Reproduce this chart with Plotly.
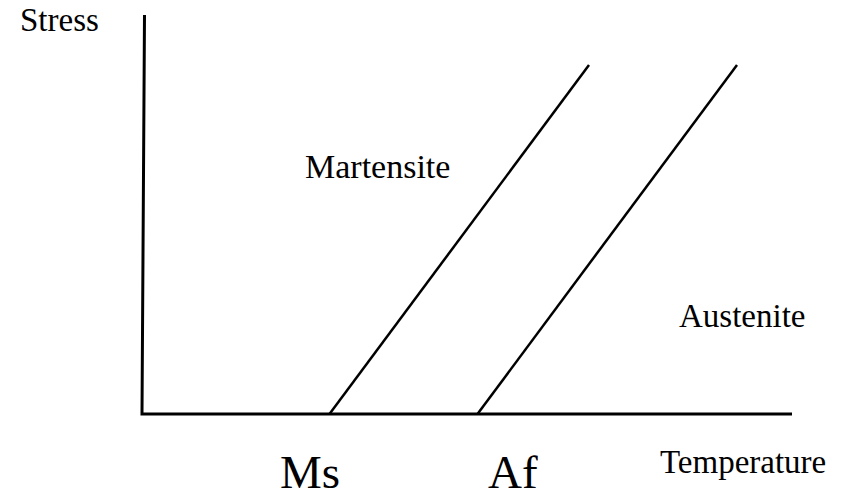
import plotly.graph_objects as go

# Diagram coordinates: origin at the axes corner (temperature right, stress up)
axis_x = [2.5, 0, 650]
axis_y = [399, 0, 0]

ms_line_x = [187.5, 447]
ms_line_y = [0, 349]
af_line_x = [335.5, 595]
af_line_y = [0, 349]

label_texts = ["Stress", "Temperature", "Martensite", "Austenite", "Ms", "Af"]
label_x = [-83, 601, 235, 600, 168, 371]
label_y = [394, -48, 248, 98, -58, -58]
label_sizes = [33, 33, 34, 33, 47, 47]

FONT = "Liberation Serif, Times New Roman, serif"

fig = go.Figure()
fig.add_trace(go.Scatter(x=axis_x, y=axis_y, mode="lines",
                         line=dict(color="black", width=3), hoverinfo="skip"))
fig.add_trace(go.Scatter(x=ms_line_x, y=ms_line_y, mode="lines",
                         line=dict(color="black", width=2.5), hoverinfo="skip"))
fig.add_trace(go.Scatter(x=af_line_x, y=af_line_y, mode="lines",
                         line=dict(color="black", width=2.5), hoverinfo="skip"))

for t, x, y, s in zip(label_texts, label_x, label_y, label_sizes):
    fig.add_annotation(x=x, y=y, xref="x", yref="y", text=t, showarrow=False,
                       xanchor="center", yanchor="middle",
                       font=dict(family=FONT, size=s, color="black"))

# The page body adds an 8px margin, so the figure is 837x488 placed at (8, 8)
fig.update_layout(
    width=837, height=488,
    margin=dict(l=0, r=0, t=0, b=0),
    paper_bgcolor="white", plot_bgcolor="white",
    showlegend=False,
    xaxis=dict(range=[-134, 703], visible=False, fixedrange=True),
    yaxis=dict(range=[-82, 406], visible=False, fixedrange=True),
)

fig.write_html("out.html")
